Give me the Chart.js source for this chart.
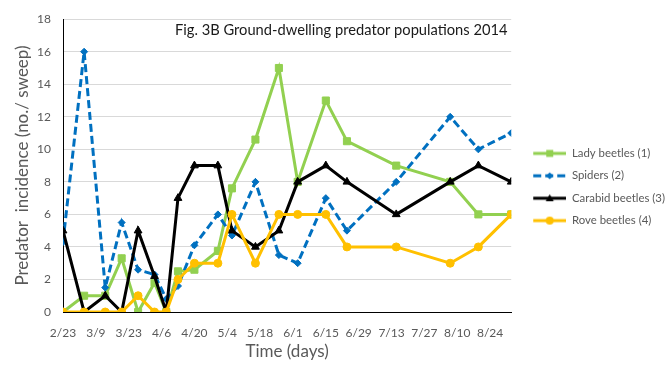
<!DOCTYPE html>
<html>
<head>
<meta charset="utf-8">
<script src="https://cdn.jsdelivr.net/npm/chart.js@4.4.1/dist/chart.umd.min.js"></script>
<style>
  html, body { margin: 0; padding: 0; background: #fff; }
</style>
</head>
<body>
<canvas id="chart" width="672" height="373"></canvas>
<script>
// Dates des relevés (2014) et incidence par espèce (nb / coup de filet)
const sampleDates = ["2/23", "3/4", "3/13", "3/20", "3/27", "4/3", "4/8", "4/13", "4/20", "4/30",
  "5/6", "5/16", "5/26", "6/3", "6/15", "6/24", "7/15", "8/7", "8/19", "9/2"];
const ladyBeetles = [0, 1, 1, 3.3, 0, 1.8, 0, 2.5, 2.6, 3.75, 7.6, 10.6, 15, 8, 13, 10.5, 9, 8, 6, 6];
const spiders = [4.3, 16, 1.5, 5.5, 2.6, 2.3, 0.8, 1.6, 4.1, 6, 4.7, 8, 3.5, 3, 7, 5, 8, 12, 10, 11];
const carabidBeetles = [5, 0, 1, 0, 5, 2.2, 0, 7, 9, 9, 5, 4, 5, 8, 9, 8, 6, 8, 9, 8];
const roveBeetles = [0, 0, 0, 0, 1, 0, 0, 2, 3, 3, 6, 3, 6, 6, 6, 4, 4, 3, 4, 6];
const xTickLabels = ["2/23", "3/9", "3/23", "4/6", "4/20", "5/4", "5/18", "6/1", "6/15", "6/29",
  "7/13", "7/27", "8/10", "8/24"];

const FONT = "Lato";
const GREY = "#595959";

// nombre de jours depuis le 23 février
function dayOffset(md) {
  const [m, d] = md.split("/").map(Number);
  return Math.round((Date.UTC(2014, m - 1, d) - Date.UTC(2014, 1, 23)) / 86400000);
}
const days = sampleDates.map(dayOffset);

function toPoints(values) {
  return values.map((v, i) => ({ x: days[i], y: v }));
}

// petit symbole de légende : trait + marqueur, comme dans Excel
function legendSymbol(color, dash, shape) {
  const c = document.createElement("canvas");
  c.width = 44;
  c.height = 14;
  const g = c.getContext("2d");
  g.strokeStyle = color;
  g.fillStyle = color;
  g.lineWidth = 3;
  g.setLineDash(dash);
  g.beginPath();
  g.moveTo(11, 7);
  g.lineTo(44, 7);
  g.stroke();
  const cx = 27.5, cy = 7;
  g.beginPath();
  if (shape === "rect") g.rect(cx - 3.5, cy - 3.5, 7, 7);
  else if (shape === "circle") g.arc(cx, cy, 4, 0, Math.PI * 2);
  else if (shape === "triangle") {
    g.moveTo(cx, cy - 4);
    g.lineTo(cx + 4, cy + 3);
    g.lineTo(cx - 4, cy + 3);
    g.closePath();
  } else {
    g.moveTo(cx, cy - 3.5);
    g.lineTo(cx + 3.5, cy);
    g.lineTo(cx, cy + 3.5);
    g.lineTo(cx - 3.5, cy);
    g.closePath();
  }
  g.fill();
  return c;
}

const series = [
  { label: "Lady beetles (1)", data: ladyBeetles, color: "#92D050", dash: [], shape: "rect", radius: 5, order: 4 },
  { label: "Spiders (2)", data: spiders, color: "#0070C0", dash: [8, 4], shape: "rectRot", radius: 3.5, order: 3 },
  { label: "Carabid beetles (3)", data: carabidBeetles, color: "#000000", dash: [], shape: "triangle", radius: 4.5, order: 2 },
  { label: "Rove beetles (4)", data: roveBeetles, color: "#FFC000", dash: [], shape: "circle", radius: 4, order: 1 }
];
const symbols = series.map((s) => legendSymbol(s.color, s.dash, s.shape));

// titre dessiné dans la zone de tracé
const insideTitle = {
  id: "insideTitle",
  afterDraw(chart) {
    const ctx = chart.ctx;
    ctx.save();
    ctx.font = "14.7px " + FONT;
    ctx.fillStyle = "#1a1a1a";
    ctx.textAlign = "left";
    ctx.textBaseline = "middle";
    ctx.fillText("Fig. 3B Ground-dwelling predator populations 2014", chart.chartArea.left + 112, 30);
    ctx.restore();
  }
};

new Chart(document.getElementById("chart"), {
  type: "line",
  data: {
    datasets: series.map((s) => ({
      label: s.label,
      data: toPoints(s.data),
      borderColor: s.color,
      backgroundColor: s.color,
      borderWidth: 3,
      borderDash: s.dash,
      pointStyle: s.shape,
      pointRadius: s.radius,
      pointBorderWidth: 1,
      pointBackgroundColor: s.color,
      pointBorderColor: s.color,
      tension: 0,
      fill: false,
      order: s.order
    }))
  },
  options: {
    responsive: false,
    animation: false,
    layout: { padding: { top: 10, left: 0, right: -3, bottom: 9 } },
    scales: {
      x: {
        type: "linear",
        min: 0,
        max: days[days.length - 1],
        afterFit: (scale) => { scale.height = 52; },
        grid: { display: false },
        border: { display: true, color: "#000", width: 1 },
        ticks: {
          stepSize: 14,
          includeBounds: false,
          autoSkip: false,
          maxRotation: 0,
          padding: 6,
          color: GREY,
          font: { family: FONT, size: 12 },
          callback: (v) => xTickLabels[v / 14]
        },
        title: {
          display: true,
          text: "Time (days)",
          color: GREY,
          font: { family: FONT, size: 17 },
          padding: { top: 0, bottom: 2 }
        }
      },
      y: {
        min: 0,
        max: 18,
        afterFit: (scale) => { scale.width = 63; },
        grid: { color: "#d9d9d9", drawTicks: false },
        border: { display: true, color: "#000", width: 1 },
        ticks: {
          stepSize: 2,
          padding: 12,
          color: GREY,
          font: { family: FONT, size: 12 }
        },
        title: {
          display: true,
          text: "Predator  incidence (no./ sweep)",
          color: GREY,
          font: { family: FONT, size: 17 },
          padding: { top: 12, bottom: 0 }
        }
      }
    },
    plugins: {
      tooltip: { enabled: false },
      legend: {
        position: "right",
        labels: {
          usePointStyle: true,
          pointStyleWidth: 44,
          padding: 11,
          color: GREY,
          font: { family: FONT, size: 11.4 },
          generateLabels: (chart) => series.map((s, i) => ({
            text: s.label,
            fillStyle: s.color,
            strokeStyle: s.color,
            lineWidth: 0,
            pointStyle: symbols[i],
            hidden: !chart.isDatasetVisible(i),
            datasetIndex: i,
            fontColor: GREY
          }))
        }
      }
    }
  },
  plugins: [insideTitle]
});
</script>
</body>
</html>
